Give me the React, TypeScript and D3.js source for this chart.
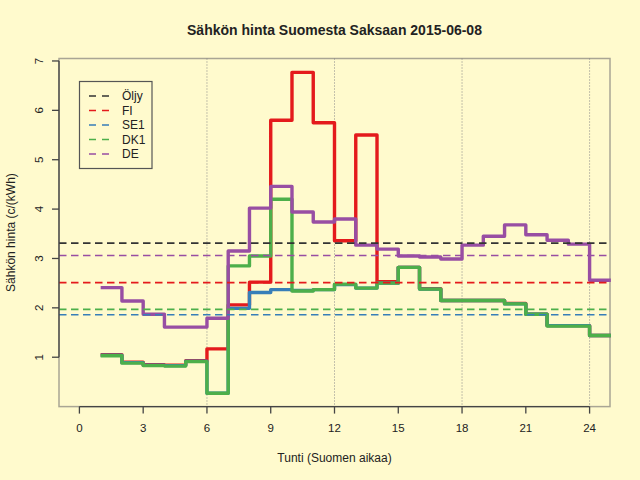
import { useEffect, useRef } from 'react';
import * as d3 from 'd3';

// hourly prices (c/kWh), hour h covers [h, h+1]
const hours = d3.range(1, 25);
const fi = [1.05, 0.9, 0.85, 0.84, 0.93, 1.17, 2.06, 2.52, 5.8, 6.77, 5.75, 3.36, 5.5, 2.53, 2.82, 2.39, 2.15, 2.15, 2.15, 2.09, 1.87, 1.64, 1.64, 1.44];
const se1 = [1.04, 0.89, 0.84, 0.83, 0.92, 0.27, 1.99, 2.31, 2.37, 2.35, 2.37, 2.47, 2.4, 2.5, 2.82, 2.38, 2.15, 2.15, 2.15, 2.08, 1.87, 1.64, 1.64, 1.44];
const dk1 = [1.03, 0.88, 0.83, 0.82, 0.91, 0.27, 2.85, 3.05, 4.2, 2.34, 2.37, 2.48, 2.4, 2.5, 2.82, 2.38, 2.15, 2.15, 2.15, 2.08, 1.87, 1.63, 1.63, 1.44];
const de = [2.41, 2.14, 1.87, 1.61, 1.61, 1.79, 3.15, 4.02, 4.46, 3.94, 3.74, 3.8, 3.27, 3.19, 3.05, 3.03, 2.99, 3.27, 3.45, 3.68, 3.48, 3.37, 3.29, 2.56];

// daily averages drawn as dashed lines
const legendLabels = ['Öljy', 'FI', 'SE1', 'DK1', 'DE'];
const legendColors = ['#333333', '#e41a1c', '#377eb8', '#4daf4a', '#984ea3'];
const averages = [3.31, 2.51, 1.86, 1.97, 3.06];

const xTicks = [0, 3, 6, 9, 12, 15, 18, 21, 24];
const yTicks = [1, 2, 3, 4, 5, 6, 7];
const gridHours = [6, 12, 18, 24];

export default function App() {
  const svgRef = useRef<SVGSVGElement>(null);

  useEffect(() => {
    if (!svgRef.current) return;
    const W = 640, H = 480;
    const left = 59, right = 610, top = 58.5, bottom = 406.6;
    const font = '"Liberation Sans", Arial, Helvetica, sans-serif';

    d3.select(svgRef.current).selectAll('*').remove();
    const svg = d3.select(svgRef.current).attr('width', W).attr('height', H);

    svg.append('rect').attr('width', W).attr('height', H).attr('fill', '#fffacd');

    const x = d3.scaleLinear().domain([-0.96, 24.96]).range([left, right]);
    const y = d3.scaleLinear().domain([0, 7.05]).range([bottom, top]);

    // frame
    svg.append('rect')
      .attr('x', left).attr('y', top)
      .attr('width', right - left).attr('height', bottom - top)
      .attr('fill', 'none').attr('stroke', '#a9a594').attr('stroke-width', 1.5);

    // hour gridlines
    svg.append('g').selectAll('line').data(gridHours).join('line')
      .attr('x1', d => x(d)).attr('x2', d => x(d))
      .attr('y1', top).attr('y2', bottom)
      .attr('stroke', '#888').attr('stroke-width', 1).attr('stroke-dasharray', '1,2');

    // series
    const step = d3.line<number>()
      .x((d, i) => x(i + 1))
      .y(d => y(d))
      .curve(d3.curveStepAfter);
    const series = [
      { values: fi, color: legendColors[1] },
      { values: se1, color: legendColors[2] },
      { values: dk1, color: legendColors[3] },
      { values: de, color: legendColors[4] },
    ];
    series.forEach(s => {
      svg.append('path')
        .datum([...s.values, s.values[s.values.length - 1]])
        .attr('fill', 'none')
        .attr('stroke', s.color)
        .attr('stroke-width', 3.4)
        .attr('stroke-linejoin', 'round')
        .attr('d', step);
    });

    // averages
    svg.append('g').selectAll('line').data(averages).join('line')
      .attr('x1', left).attr('x2', right)
      .attr('y1', d => y(d)).attr('y2', d => y(d))
      .attr('stroke', (d, i) => legendColors[i])
      .attr('stroke-width', 1.7)
      .attr('stroke-dasharray', '7.5,4.5');

    // x axis
    const xa = svg.append('g');
    xa.append('line')
      .attr('x1', x(0)).attr('x2', x(24)).attr('y1', bottom).attr('y2', bottom)
      .attr('stroke', '#444').attr('stroke-width', 1.3);
    xa.selectAll('line.tick').data(xTicks).join('line').attr('class', 'tick')
      .attr('x1', d => x(d)).attr('x2', d => x(d))
      .attr('y1', bottom).attr('y2', bottom + 7)
      .attr('stroke', '#444').attr('stroke-width', 1.3);
    xa.selectAll('text').data(xTicks).join('text')
      .attr('x', d => x(d)).attr('y', 432)
      .attr('text-anchor', 'middle')
      .attr('font-family', font).attr('font-size', 11.5).attr('fill', '#222')
      .text(d => d);

    // y axis
    const ya = svg.append('g');
    ya.append('line')
      .attr('x1', left).attr('x2', left).attr('y1', y(1)).attr('y2', y(7))
      .attr('stroke', '#444').attr('stroke-width', 1.3);
    ya.selectAll('line.tick').data(yTicks).join('line').attr('class', 'tick')
      .attr('x1', left - 7).attr('x2', left)
      .attr('y1', d => y(d)).attr('y2', d => y(d))
      .attr('stroke', '#444').attr('stroke-width', 1.3);
    ya.selectAll('text').data(yTicks).join('text')
      .attr('transform', d => `translate(43,${y(d)}) rotate(-90)`)
      .attr('text-anchor', 'middle')
      .attr('font-family', font).attr('font-size', 11.5).attr('fill', '#222')
      .text(d => d);

    // titles
    svg.append('text')
      .attr('x', (left + right) / 2).attr('y', 35)
      .attr('text-anchor', 'middle')
      .attr('font-family', font).attr('font-size', 14).attr('font-weight', 'bold').attr('fill', '#222')
      .text('Sähkön hinta Suomesta Saksaan 2015-06-08');
    svg.append('text')
      .attr('x', (left + right) / 2).attr('y', 462)
      .attr('text-anchor', 'middle')
      .attr('font-family', font).attr('font-size', 12).attr('fill', '#222')
      .text('Tunti (Suomen aikaa)');
    svg.append('text')
      .attr('transform', `translate(15,${(top + bottom) / 2}) rotate(-90)`)
      .attr('text-anchor', 'middle')
      .attr('font-family', font).attr('font-size', 12).attr('fill', '#222')
      .text('Sähkön hinta (c/(kWh)');

    // legend
    const lg = svg.append('g');
    lg.append('rect')
      .attr('x', 79.5).attr('y', 81.5).attr('width', 72.5).attr('height', 87)
      .attr('fill', 'none').attr('stroke', '#555').attr('stroke-width', 1.2);
    const rows = lg.selectAll('g').data(legendLabels).join('g')
      .attr('transform', (d, i) => `translate(0,${96 + i * 14.5})`);
    rows.append('line')
      .attr('x1', 89).attr('x2', 109)
      .attr('stroke', (d, i) => legendColors[i])
      .attr('stroke-width', 1.7).attr('stroke-dasharray', '7,6');
    rows.append('text')
      .attr('x', 122).attr('dy', '0.36em')
      .attr('font-family', font).attr('font-size', 12).attr('fill', '#222')
      .text(d => d);
  }, []);

  return <svg ref={svgRef} style={{ display: 'block', position: 'absolute', left: 0, top: 0 }} />;
}
